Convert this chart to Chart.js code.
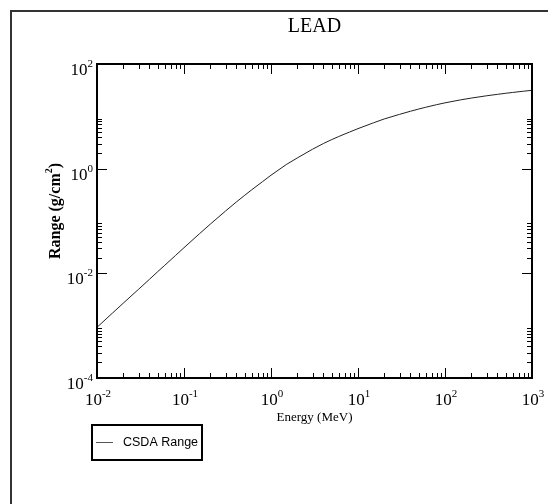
<!DOCTYPE html>
<html>
<head>
<meta charset="utf-8">
<script src="https://cdn.jsdelivr.net/npm/chart.js@4.4.1/dist/chart.umd.min.js"></script>
<style>
  body { margin: 0; background: #fff; }
  canvas { display: block; }
</style>
</head>
<body>
<canvas id="rangeChart" width="548" height="504"></canvas>
<script>
// Electron CSDA range in lead
const energies = [0.01, 0.015, 0.02, 0.03, 0.04, 0.05, 0.06, 0.08, 0.1, 0.15, 0.2, 0.3, 0.4, 0.5, 0.6, 0.8,
    1, 1.5, 2, 3, 4, 5, 6, 8, 10, 15, 20, 30, 40, 50, 60, 80, 100, 150, 200, 300, 400, 500, 600, 800, 1000];
const csdaRange = [9.3e-4, 1.73e-3, 2.68e-3, 4.95e-3, 7.67e-3, 1.08e-2, 1.42e-2, 2.2e-2, 3.09e-2, 5.68e-2, 8.67e-2, 0.155, 0.231, 0.311, 0.394, 0.566,
    0.75, 1.2, 1.6, 2.35, 3.02, 3.6, 4.11, 5.01, 5.82, 7.5, 8.9, 10.9, 12.5, 13.8, 14.9, 16.7, 18.1, 20.6, 22.3, 24.7, 26.3, 27.6, 28.6, 30.2, 31.4];

const xMajor = [-2, -1, 0, 1, 2, 3];      // exponents of 10
const yMajor = [-4, -2, 0, 2];
const titleText = 'LEAD';
const xTitle = 'Energy (MeV)';
const legendLabel = 'CSDA Range';

// draws "10" with a raised exponent, anchored by align
function drawPow(ctx, exp, x, baseline, align) {
    const big = '17px "Liberation Serif"', small = '11px "Liberation Serif"';
    ctx.font = big;
    const w1 = ctx.measureText('10').width;
    ctx.font = small;
    const w2 = ctx.measureText(String(exp)).width;
    let left = align === 'center' ? x - (w1 + w2) / 2 : x - w1 - w2;
    ctx.textAlign = 'left';
    ctx.textBaseline = 'alphabetic';
    ctx.font = big;
    ctx.fillText('10', left, baseline);
    ctx.font = small;
    ctx.fillText(String(exp), left + w1, baseline - 8);
}

const gracePlot = {
    id: 'gracePlot',
    afterDraw(chart) {
        const ctx = chart.ctx;
        const a = chart.chartArea;
        const xs = chart.scales.x, ys = chart.scales.y;
        ctx.save();
        ctx.fillStyle = '#000';

        // outer frame (left and top only)
        ctx.strokeStyle = '#333';
        ctx.lineWidth = 2;
        ctx.beginPath();
        ctx.moveTo(11, 504);
        ctx.lineTo(11, 11);
        ctx.lineTo(548, 11);
        ctx.stroke();

        // ticks, mirrored on all four sides, pointing inward
        ctx.strokeStyle = '#000';
        ctx.lineWidth = 1;
        ctx.beginPath();
        xMajor.forEach((e, i) => {
            const px = Math.round(xs.getPixelForValue(Math.pow(10, e))) + 0.5;
            ctx.moveTo(px, a.bottom); ctx.lineTo(px, a.bottom - 10);
            ctx.moveTo(px, a.top); ctx.lineTo(px, a.top + 10);
            if (i < xMajor.length - 1) {
                for (let k = 2; k <= 9; k++) {
                    const p = Math.round(xs.getPixelForValue(k * Math.pow(10, e))) + 0.5;
                    ctx.moveTo(p, a.bottom); ctx.lineTo(p, a.bottom - 5);
                    ctx.moveTo(p, a.top); ctx.lineTo(p, a.top + 5);
                }
            }
        });
        yMajor.forEach((e, i) => {
            const py = Math.round(ys.getPixelForValue(Math.pow(10, e))) + 0.5;
            ctx.moveTo(a.left, py); ctx.lineTo(a.left + 10, py);
            ctx.moveTo(a.right, py); ctx.lineTo(a.right - 10, py);
            if (i < yMajor.length - 1) {
                for (let k = 2; k <= 9; k++) {
                    const p = Math.round(ys.getPixelForValue(k * Math.pow(10, e))) + 0.5;
                    ctx.moveTo(a.left, p); ctx.lineTo(a.left + 5, p);
                    ctx.moveTo(a.right, p); ctx.lineTo(a.right - 5, p);
                }
            }
        });
        ctx.stroke();

        // plot box
        ctx.lineWidth = 2;
        ctx.strokeRect(a.left, a.top, a.right - a.left, a.bottom - a.top);

        // tick labels
        xMajor.forEach(e => drawPow(ctx, e, xs.getPixelForValue(Math.pow(10, e)) + 1, a.bottom + 27, 'center'));
        yMajor.forEach(e => drawPow(ctx, e, a.left - 4, ys.getPixelForValue(Math.pow(10, e)) + 11, 'right'));

        // title
        ctx.textAlign = 'center';
        ctx.textBaseline = 'middle';
        ctx.font = '20px "Liberation Serif"';
        ctx.fillText(titleText, (a.left + a.right) / 2, 27);

        // x axis title
        ctx.font = '13px "Liberation Serif"';
        ctx.fillText(xTitle, (a.left + a.right) / 2, 418);

        // y axis title, rotated, with superscript 2
        ctx.save();
        ctx.translate(56, 211);
        ctx.rotate(-Math.PI / 2);
        const bigF = 'bold 16px "Liberation Serif"', supF = 'bold 10px "Liberation Serif"';
        ctx.font = bigF;
        const t1 = 'Range (g/cm', t3 = ')';
        const w1 = ctx.measureText(t1).width, w3 = ctx.measureText(t3).width;
        ctx.font = supF;
        const w2 = ctx.measureText('2').width;
        let sx = -(w1 + w2 + w3) / 2;
        ctx.textAlign = 'left';
        ctx.textBaseline = 'middle';
        ctx.font = bigF;
        ctx.fillText(t1, sx, 0);
        ctx.font = supF;
        ctx.fillText('2', sx + w1, -7);
        ctx.font = bigF;
        ctx.fillText(t3, sx + w1 + w2, 0);
        ctx.restore();

        // legend box
        ctx.lineWidth = 2;
        ctx.strokeRect(92, 425, 110, 35);
        ctx.strokeStyle = '#555';
        ctx.lineWidth = 1;
        ctx.beginPath();
        ctx.moveTo(96, 442.5); ctx.lineTo(113, 442.5);
        ctx.stroke();
        ctx.textAlign = 'left';
        ctx.font = '12.5px "Liberation Sans"';
        ctx.fillText(legendLabel, 123, 443);
        ctx.restore();
    }
};

new Chart(document.getElementById('rangeChart'), {
    type: 'line',
    data: {
        datasets: [{
            label: legendLabel,
            data: energies.map((e, i) => ({ x: e, y: csdaRange[i] })),
            borderColor: '#222',
            borderWidth: 1,
            pointRadius: 0,
            fill: false,
            tension: 0,
        }]
    },
    options: {
        responsive: false,
        animation: false,
        devicePixelRatio: 1,
        layout: { padding: { left: 97, right: 16, top: 64, bottom: 126 } },
        scales: {
            x: { type: 'logarithmic', min: 0.01, max: 1000, display: false },
            y: { type: 'logarithmic', min: 1e-4, max: 100, display: false }
        },
        plugins: { legend: { display: false }, title: { display: false }, tooltip: { enabled: false } }
    },
    plugins: [gracePlot]
});
</script>
</body>
</html>
